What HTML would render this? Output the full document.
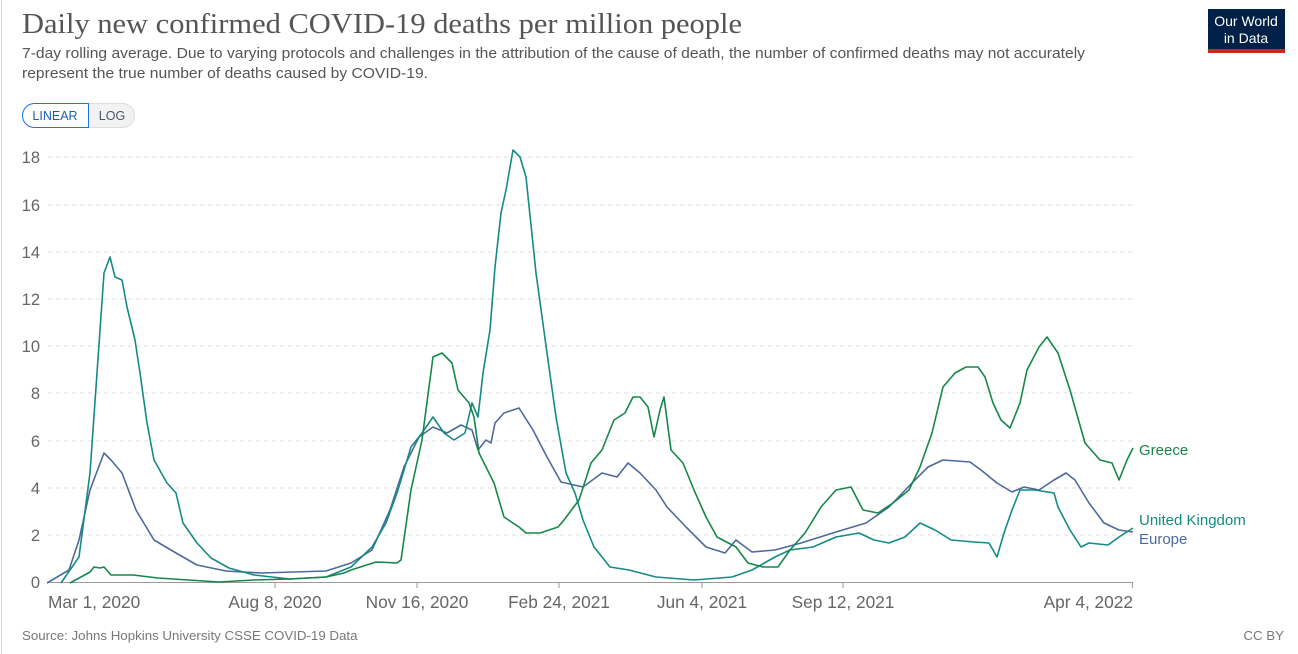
<!DOCTYPE html>
<html><head><meta charset="utf-8"><style>
body{margin:0;background:#fff;width:1298px;height:654px;overflow:hidden;font-family:"Liberation Sans",sans-serif;}
</style></head><body>
<svg width="1298" height="654" xmlns="http://www.w3.org/2000/svg" style="position:absolute;left:0;top:0">
<line x1="1.5" y1="0" x2="1.5" y2="654" stroke="#ddd"/>
<text x="22" y="33" font-family="Liberation Serif,serif" font-size="28" fill="#555" textLength="720" lengthAdjust="spacingAndGlyphs">Daily new confirmed COVID-19 deaths per million people</text>
<text x="22" y="58" font-size="14.5" fill="#555" textLength="1063" lengthAdjust="spacingAndGlyphs">7-day rolling average. Due to varying protocols and challenges in the attribution of the cause of death, the number of confirmed deaths may not accurately</text>
<text x="22" y="78" font-size="14.5" fill="#555" textLength="406" lengthAdjust="spacingAndGlyphs">represent the true number of deaths caused by COVID-19.</text>
<rect x="22.5" y="103.5" width="112" height="24" rx="12" fill="#f2f2f2" stroke="#ddd"/>
<path d="M34.5,103.5 H88.5 V127.5 H34.5 A12,12 0 0 1 34.5,103.5 Z" fill="#fff" stroke="#1a73e8"/>
<text x="55" y="120" font-size="12.5" fill="#1a5fb4" text-anchor="middle">LINEAR</text>
<text x="112" y="120" font-size="12.5" fill="#4a5568" text-anchor="middle">LOG</text>
<rect x="1208" y="9" width="77" height="40" fill="#002147"/>
<rect x="1208" y="49" width="77" height="4" fill="#ce261e"/>
<text x="1246" y="26" font-size="14" fill="#fff" text-anchor="middle">Our World</text>
<text x="1246" y="43" font-size="14" fill="#fff" text-anchor="middle">in Data</text>
<g stroke="#ddd" stroke-dasharray="4,4">
<line x1="48" x2="1133" y1="535" y2="535"/><line x1="48" x2="1133" y1="488" y2="488"/><line x1="48" x2="1133" y1="441" y2="441"/><line x1="48" x2="1133" y1="393" y2="393"/><line x1="48" x2="1133" y1="346" y2="346"/><line x1="48" x2="1133" y1="299" y2="299"/><line x1="48" x2="1133" y1="252" y2="252"/><line x1="48" x2="1133" y1="205" y2="205"/><line x1="48" x2="1133" y1="157" y2="157"/>
</g>
<line x1="48" x2="1133" y1="582.5" y2="582.5" stroke="#999"/>
<g stroke="#999"><line x1="275" x2="275" y1="582" y2="588"/><line x1="417" x2="417" y1="582" y2="588"/><line x1="559" x2="559" y1="582" y2="588"/><line x1="702" x2="702" y1="582" y2="588"/><line x1="843" x2="843" y1="582" y2="588"/><line x1="1132.5" x2="1132.5" y1="582" y2="588"/></g>
<g font-size="16.5" fill="#666" text-anchor="end">
<text x="40" y="588">0</text><text x="40" y="541">2</text><text x="40" y="494">4</text><text x="40" y="447">6</text><text x="40" y="399">8</text><text x="40" y="352">10</text><text x="40" y="305">12</text><text x="40" y="258">14</text><text x="40" y="211">16</text><text x="40" y="163">18</text>
</g>
<g font-size="17.3" fill="#666" text-anchor="middle">
<text x="48" y="608" text-anchor="start">Mar 1, 2020</text><text x="275" y="608">Aug 8, 2020</text><text x="417" y="608">Nov 16, 2020</text><text x="559" y="608">Feb 24, 2021</text><text x="702" y="608">Jun 4, 2021</text><text x="843" y="608">Sep 12, 2021</text><text x="1133" y="608" text-anchor="end">Apr 4, 2022</text>
</g>
<g fill="none" stroke-width="1.6" stroke-linejoin="round">
<polyline stroke="#4c6a9c" points="47,583 69,570 79,540 90,490 104,453 111,460 122,473 136,510 154,540 176,553 197,565 226,571 261,573 326,571 351,563 372,550 390,510 404,467 419,437 433,427 447,433 461,425 472,430 478,450 486,440 491,443 495,423 504,413 519,408 533,430 547,457 561,482 583,487 602,473 617,477 628,463 640,473 656,490 667,507 686,527 706,547 725,553 736,540 752,552 775,550 801,543 836,532 866,523 889,507 912,483 928,467 943,460 970,462 981,470 997,483 1012,492 1024,487 1039,490 1054,480 1066,473 1075,480 1089,503 1104,523 1119,530 1133,532"/>
<polyline stroke="#168a84" points="61,583 79,557 90,473 97,373 104,273 110,257 115,277 122,280 127,307 135,340 140,373 147,423 154,460 167,483 176,493 183,523 197,543 211,558 229,568 254,575 290,579 326,577 351,567 372,547 386,523 397,493 411,447 422,433 433,417 444,433 454,440 465,433 472,403 478,417 483,373 490,330 495,267 501,213 506,190 513,150 520,157 526,177 536,273 547,353 556,417 566,473 575,493 583,520 594,547 610,567 629,570 656,577 694,580 732,577 752,570 775,557 790,550 813,547 836,537 859,533 874,540 889,543 905,537 920,523 935,530 951,540 974,542 989,543 997,557 1004,533 1012,510 1020,490 1035,490 1054,493 1058,507 1070,530 1081,547 1089,543 1108,545 1119,537 1133,528"/>
<polyline stroke="#16874a" points="70,583 90,572 94,567 100,568 104,567 111,575 133,575 158,578 219,582 254,580 290,579 326,577 344,573 351,570 376,562 397,563 401,560 411,490 422,440 433,357 442,353 452,363 458,390 469,403 474,417 479,453 494,483 504,517 519,527 526,533 540,533 558,527 564,520 579,500 591,463 602,450 614,420 625,413 633,397 640,397 648,407 654,437 660,410 664,397 671,450 683,463 694,490 706,517 717,537 736,547 748,563 763,567 778,567 790,550 805,533 821,507 836,490 851,487 863,510 878,513 893,503 909,490 920,467 932,433 943,387 955,373 966,367 978,367 985,377 993,403 1001,420 1010,428 1020,403 1027,370 1039,347 1047,337 1058,353 1070,390 1085,443 1100,460 1112,463 1119,480 1127,460 1133,448"/>
</g>
<text x="1139" y="455" font-size="15" fill="#16874a">Greece</text>
<text x="1139" y="525" font-size="15" fill="#168a84">United Kingdom</text>
<text x="1139" y="544" font-size="15" fill="#4c6a9c">Europe</text>
<text x="22" y="640" font-size="13.3" fill="#777">Source: Johns Hopkins University CSSE COVID-19 Data</text>
<text x="1284" y="640" font-size="13.3" fill="#777" text-anchor="end">CC BY</text>
</svg>
</body></html>
